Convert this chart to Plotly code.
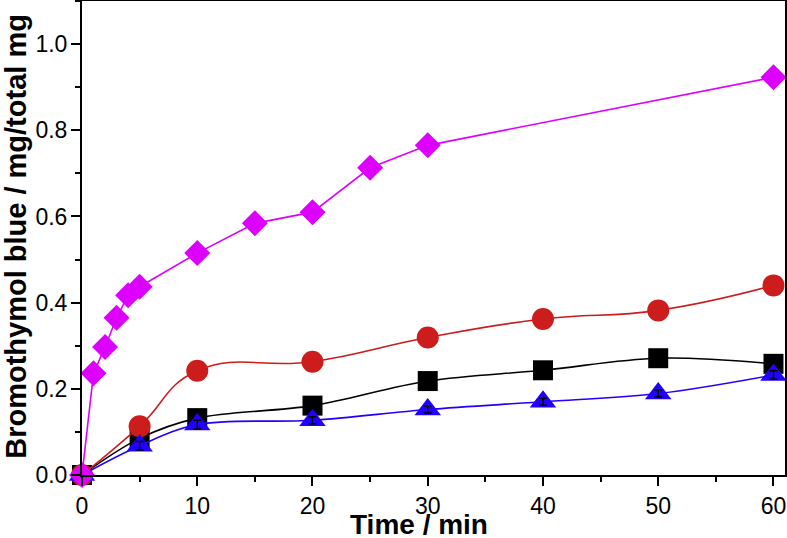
import plotly.graph_objects as go

# Data
t_magenta = [0, 1, 2, 3, 4, 5, 10, 15, 20, 25, 30, 60]
y_magenta = [0.0, 0.236, 0.297, 0.365, 0.417, 0.437, 0.515, 0.584, 0.610, 0.713, 0.765, 0.923]

t_std = [0, 5, 10, 20, 30, 40, 50, 60]
y_red = [0.0, 0.113, 0.242, 0.263, 0.319, 0.362, 0.382, 0.440]
y_black = [0.0, 0.085, 0.132, 0.161, 0.218, 0.243, 0.271, 0.258]
y_blue = [0.0, 0.068, 0.117, 0.127, 0.152, 0.170, 0.189, 0.232]
err_blue = [0.0, 0.010, 0.010, 0.008, 0.008, 0.008, 0.008, 0.010]

x_ticks = [0, 10, 20, 30, 40, 50, 60]
y_ticks = [0.0, 0.2, 0.4, 0.6, 0.8, 1.0]

x_title = "Time / min"
y_title = "Bromothymol blue / mg/total mg"

C_MAG = "#DD00FF"
C_RED = "#CC1C1C"
C_BLK = "#000000"
C_BLU = "#2200FF"

fig = go.Figure()

fig.add_trace(go.Scatter(
    x=t_std, y=y_black, mode="lines+markers",
    line=dict(color=C_BLK, width=1.6, shape="spline", smoothing=1.0),
    marker=dict(symbol="square", size=20, color=C_BLK),
    showlegend=False, cliponaxis=False))

fig.add_trace(go.Scatter(
    x=t_std, y=y_red, mode="lines+markers",
    line=dict(color=C_RED, width=1.6, shape="spline", smoothing=1.3),
    marker=dict(symbol="circle", size=22, color=C_RED),
    showlegend=False, cliponaxis=False))

fig.add_trace(go.Scatter(
    x=t_std, y=y_blue, mode="lines+markers",
    line=dict(color=C_BLU, width=1.6, shape="spline", smoothing=1.0),
    marker=dict(symbol="triangle-up", size=23, color=C_BLU),
    showlegend=False, cliponaxis=False))

fig.add_trace(go.Scatter(
    x=t_std, y=y_blue, mode="markers",
    marker=dict(size=1, color="rgba(0,0,0,0)"),
    error_y=dict(type="data", array=err_blue, color="#000000", thickness=1.5, width=4),
    showlegend=False, hoverinfo="skip", cliponaxis=False))

fig.add_trace(go.Scatter(
    x=t_magenta, y=y_magenta, mode="lines+markers",
    line=dict(color=C_MAG, width=1.6),
    marker=dict(symbol="diamond", size=20, color=C_MAG),
    showlegend=False, cliponaxis=False))

FONT = "Liberation Sans, Arial, sans-serif"
axis_font = dict(family=FONT, size=23, color="black")
title_font = dict(family=FONT, size=29, color="black")
xtitle_font = dict(family=FONT, size=28, color="black")

fig.update_layout(
    width=787, height=538,
    margin=dict(l=82, r=2, t=1, b=63),
    paper_bgcolor="white", plot_bgcolor="white",
    xaxis=dict(
        range=[0, 61], tickvals=x_ticks, ticktext=[str(v) for v in x_ticks],
        automargin=False, ticklabelstandoff=0,
        showline=True, mirror=True, linecolor="black", linewidth=2,
        ticks="outside", ticklen=9, tickwidth=1.5, tickcolor="black",
        minor=dict(dtick=5, ticks="outside", ticklen=5, tickwidth=1.5, tickcolor="black"),
        showgrid=False, zeroline=False, tickfont=axis_font,
    ),
    yaxis=dict(
        range=[0, 1.1], tickvals=y_ticks, ticktext=["%.1f" % v for v in y_ticks],
        automargin=False, ticklabelstandoff=-1,
        showline=True, mirror=True, linecolor="black", linewidth=2,
        ticks="outside", ticklen=9, tickwidth=1.5, tickcolor="black",
        minor=dict(dtick=0.1, ticks="outside", ticklen=5, tickwidth=1.5, tickcolor="black"),
        showgrid=False, zeroline=False, tickfont=axis_font,
    ),
    annotations=[
        dict(text="<b>%s</b>" % x_title, xref="paper", yref="paper",
             x=0.479, y=-0.104, xanchor="center", yanchor="middle",
             showarrow=False, font=xtitle_font),
        dict(text="<b>%s</b>" % y_title, xref="paper", yref="paper",
             x=-0.095, y=0.503, xanchor="center", yanchor="middle",
             textangle=-90, showarrow=False, font=title_font),
    ],
)

fig.write_html(
    "out.html",
    config={"displayModeBar": False},
    post_script="document.body.style.margin='0';document.body.style.overflow='hidden';",
)
